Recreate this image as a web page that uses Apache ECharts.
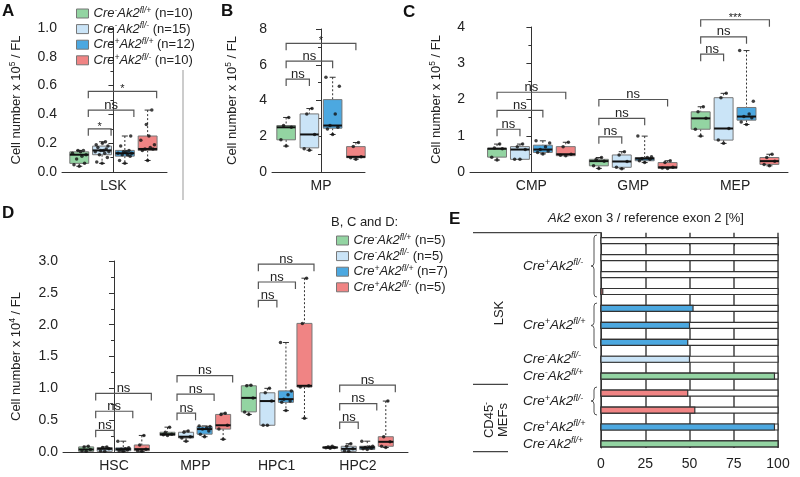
<!DOCTYPE html>
<html>
<head>
<meta charset="utf-8">
<script src="https://cdn.jsdelivr.net/npm/echarts@6/dist/echarts.min.js"></script>
<style>
  html, body { margin: 0; padding: 0; background: #fff; }
  #chart-container { width: 800px; height: 477px; }
</style>
</head>
<body>
<div id="chart-container"></div>
<script>
// ---- data ----
// boxes: [min, q1, median, q3, max] per group (Cre-fl/+, Cre-fl/-, Cre+fl/+, Cre+fl/-)
const lskCats = ["LSK"];
const lskBoxes = [[
  [0.04, 0.06, 0.12, 0.14, 0.15],
  [0.06, 0.12, 0.15, 0.18, 0.21],
  [0.06, 0.11, 0.13, 0.15, 0.25],
  [0.08, 0.15, 0.16, 0.25, 0.43]
]];
const lskPoints = [[
  [0.04, 0.05, 0.06, 0.09, 0.11, 0.12, 0.13, 0.14, 0.15, 0.15],
  [0.06, 0.07, 0.10, 0.12, 0.13, 0.14, 0.14, 0.15, 0.15, 0.16, 0.17, 0.18, 0.19, 0.20, 0.21],
  [0.06, 0.08, 0.11, 0.12, 0.12, 0.13, 0.13, 0.14, 0.14, 0.15, 0.18, 0.25],
  [0.08, 0.15, 0.16, 0.16, 0.17, 0.19, 0.22, 0.25, 0.33, 0.43]
]];
const lskBrackets = [[0, 0, 1, 0.30, "*"], [0, 0, 2, 0.43, "ns"], [0, 0, 3, 0.56, "*"]];

const mpCats = ["MP"];
const mpBoxes = [[
  [1.45, 1.8, 2.5, 2.6, 3.05],
  [1.22, 1.35, 2.1, 3.25, 3.55],
  [2.1, 2.45, 2.6, 4.05, 5.3],
  [0.72, 0.8, 0.85, 1.42, 1.65]
]];
const mpPoints = [[
  [1.45, 1.8, 2.5, 2.6, 3.05],
  [1.22, 1.3, 2.1, 3.25, 3.55],
  [2.1, 2.4, 2.5, 2.6, 3.25, 4.8, 5.3],
  [0.72, 0.8, 0.85, 1.42, 1.65]
]];
const mpBrackets = [[0, 0, 1, 5.2, "ns"], [0, 0, 2, 6.2, "ns"], [0, 0, 3, 7.2, "*"]];

const progCats = ["CMP", "GMP", "MEP"];
const progBoxes = [
  [[0.33, 0.41, 0.64, 0.66, 0.77], [0.35, 0.35, 0.62, 0.70, 0.77], [0.5, 0.54, 0.62, 0.74, 0.86], [0.45, 0.45, 0.49, 0.70, 0.82]],
  [[0.1, 0.17, 0.3, 0.35, 0.4], [0.09, 0.13, 0.29, 0.47, 0.56], [0.26, 0.31, 0.37, 0.4, 0.99], [0.1, 0.1, 0.13, 0.26, 0.31]],
  [[0.99, 1.18, 1.48, 1.66, 1.8], [0.79, 0.88, 1.2, 2.05, 2.17], [1.31, 1.43, 1.53, 1.78, 3.35], [0.17, 0.21, 0.3, 0.4, 0.49]]
];
const progPoints = [
  [[0.33, 0.41, 0.64, 0.66, 0.77], [0.35, 0.35, 0.62, 0.70, 0.77], [0.5, 0.54, 0.58, 0.62, 0.7, 0.8, 0.86], [0.45, 0.46, 0.49, 0.70, 0.82]],
  [[0.1, 0.17, 0.3, 0.35, 0.4], [0.09, 0.13, 0.29, 0.47, 0.56], [0.26, 0.31, 0.35, 0.37, 0.4, 0.42, 0.99], [0.1, 0.11, 0.13, 0.26, 0.31]],
  [[0.99, 1.18, 1.48, 1.66, 1.8], [0.79, 0.88, 1.2, 2.05, 2.17], [1.31, 1.38, 1.5, 1.53, 1.6, 1.95, 3.35], [0.17, 0.21, 0.3, 0.4, 0.49]]
];
const progBrackets = [
  [0, 0, 1, 1.18, "ns"], [0, 0, 2, 1.7, "ns"], [0, 0, 3, 2.2, "ns"],
  [1, 0, 1, 0.97, "ns"], [1, 0, 2, 1.48, "ns"], [1, 0, 3, 2.0, "ns"],
  [2, 0, 1, 3.25, "ns"], [2, 0, 2, 3.73, "ns"], [2, 0, 3, 4.2, "***"]
];

const stemCats = ["HSC", "MPP", "HPC1", "HPC2"];
const stemBoxes = [
  [[0.01, 0.01, 0.04, 0.08, 0.09], [0.01, 0.01, 0.05, 0.07, 0.08], [0.01, 0.02, 0.045, 0.065, 0.17], [0.01, 0.02, 0.045, 0.11, 0.26]],
  [[0.26, 0.26, 0.28, 0.31, 0.39], [0.17, 0.22, 0.24, 0.31, 0.33], [0.24, 0.28, 0.36, 0.4, 0.41], [0.2, 0.36, 0.42, 0.59, 0.61]],
  [[0.59, 0.63, 0.85, 1.04, 1.05], [0.42, 0.42, 0.8, 0.93, 1.0], [0.65, 0.78, 0.83, 0.96, 1.72], [0.53, 1.02, 1.04, 2.02, 2.73]],
  [[0.06, 0.065, 0.07, 0.08, 0.09], [0.01, 0.01, 0.05, 0.09, 0.13], [0.04, 0.04, 0.07, 0.09, 0.17], [0.07, 0.09, 0.16, 0.24, 0.8]]
];
const stemPoints = [
  [[0.01, 0.02, 0.04, 0.08, 0.09], [0.01, 0.02, 0.05, 0.07, 0.08], [0.01, 0.02, 0.03, 0.045, 0.05, 0.065, 0.17], [0.01, 0.02, 0.045, 0.11, 0.26]],
  [[0.26, 0.27, 0.28, 0.31, 0.39], [0.17, 0.22, 0.24, 0.31, 0.33], [0.24, 0.28, 0.33, 0.36, 0.38, 0.4, 0.41], [0.2, 0.36, 0.42, 0.59, 0.61]],
  [[0.59, 0.63, 0.85, 1.04, 1.05], [0.42, 0.42, 0.8, 0.93, 1.0], [0.65, 0.78, 0.8, 0.83, 0.9, 0.96, 1.72], [0.53, 1.02, 1.04, 2.02, 2.73]],
  [[0.06, 0.065, 0.07, 0.08, 0.09], [0.01, 0.02, 0.05, 0.09, 0.13], [0.04, 0.05, 0.06, 0.07, 0.08, 0.09, 0.17], [0.07, 0.09, 0.16, 0.24, 0.8]]
];
const stemBrackets = [
  [0, 0, 1, 0.34, "ns"], [0, 0, 2, 0.64, "ns"], [0, 0, 3, 0.92, "ns"],
  [1, 0, 1, 0.61, "ns"], [1, 0, 2, 0.91, "ns"], [1, 0, 3, 1.2, "ns"],
  [2, 0, 1, 2.38, "ns"], [2, 0, 2, 2.67, "ns"], [2, 0, 3, 2.95, "ns"],
  [3, 0, 1, 0.47, "ns"], [3, 0, 2, 0.76, "ns"], [3, 0, 3, 1.05, "ns"]
];

// panel E: one bar per sample, top to bottom
const exonValues = [0, 0, 0, 1, 52, 50, 49, 50, 98, 49, 53, 98, 100];
const exonGroups = [3, 3, 3, 3, 2, 2, 2, 1, 0, 3, 3, 2, 0];
const exonLabelRows = [1.5, 5, 7, 8, 9.5, 11, 12];
const exonLabelGeno = [["+", "-"], ["+", "+"], ["-", "-"], ["-", "+"], ["+", "-"], ["+", "+"], ["-", "+"]];
const exonTicks = [0, 25, 50, 75, 100];

const legendANs = [10, 15, 12, 10];
const legendDNs = [5, 5, 7, 5];
const groupGeno = [["-", "+"], ["-", "-"], ["+", "+"], ["+", "-"]];

// ---- styling ----
const FONT = "Liberation Sans";
const groupColors = ["#93d4a2", "#cae4f7", "#4ca8e0", "#f08484"];
const AXIS = "#333";

function geno(c, a) {
  return "{i|Cre}{s|" + c + "}{i|Ak2}{s|fl/" + a + "}";
}
const genoRich = {
  i: { fontStyle: "italic", fontSize: 13, fontFamily: FONT, color: "#222", lineHeight: 15 },
  s: { fontStyle: "italic", fontSize: 8.5, fontFamily: FONT, color: "#222", lineHeight: 6, verticalAlign: "top" },
  t: { fontSize: 13, fontFamily: FONT, color: "#222", lineHeight: 15 }
};
const eRich = {
  i: { fontStyle: "italic", fontSize: 13.5, fontFamily: FONT, color: "#222", lineHeight: 16 },
  s: { fontStyle: "italic", fontSize: 9, fontFamily: FONT, color: "#222", lineHeight: 6, verticalAlign: "top" }
};

var dom = document.getElementById("chart-container");
var myChart = echarts.init(dom, null, { renderer: "canvas" });

const panels = [
  { cats: lskCats, boxes: lskBoxes, points: lskPoints, brackets: lskBrackets, names: ["a0", "a1", "a2", "a3"],
    grid: { left: 62, top: 28, width: 105, height: 144 }, xMin: -0.49, xMax: 0.51,
    yMax: 1, yStep: 0.2, dec: 1, spacing: 0.217, bw: 0.18, shift: 0.086, exp: "5", nameGap: 38 },
  { cats: mpCats, boxes: mpBoxes, points: mpPoints, brackets: mpBrackets, names: ["d0", "d1", "d2", "d3"],
    grid: { left: 272, top: 29, width: 93, height: 143 }, xMin: -0.527, xMax: 0.473,
    yMax: 8, yStep: 2, dec: 0, spacing: 0.25, bw: 0.2, shift: 0, exp: "5", nameGap: 32 },
  { cats: progCats, boxes: progBoxes, points: progPoints, brackets: progBrackets, names: ["d0", "d1", "d2", "d3"],
    grid: { left: 470, top: 27, width: 318, height: 145 }, xMin: -0.603, xMax: 2.52,
    yMax: 4, yStep: 1, dec: 0, spacing: 0.225, bw: 0.186, shift: 0, exp: "5", nameGap: 26 },
  { cats: stemCats, boxes: stemBoxes, points: stemPoints, brackets: stemBrackets, names: ["d0", "d1", "d2", "d3"],
    grid: { left: 63, top: 261, width: 345, height: 191 }, xMin: -0.627, xMax: 3.615,
    yMax: 3, yStep: 0.5, dec: 1, spacing: 0.228, bw: 0.185, shift: 0.117, exp: "4", nameGap: 39 }
];

const jitter = [0, -0.28, 0.28, -0.14, 0.14, 0.36, -0.36, 0.07, -0.07, 0.22, -0.22, 0.31, -0.31, 0.02, 0.18];

function makeBoxRenderer(bw, color) {
  return function (params, api) {
    const x = api.value(0);
    const w = api.size([bw, 0])[0];
    const lo = api.coord([x, api.value(1)]);
    const q1 = api.coord([x, api.value(2)]);
    const md = api.coord([x, api.value(3)]);
    const q3 = api.coord([x, api.value(4)]);
    const hi = api.coord([x, api.value(5)]);
    const cx = lo[0];
    const cap = 3;
    const dash = { stroke: "#333", lineWidth: 1, lineDash: [2, 2] };
    const solid = { stroke: "#333", lineWidth: 1 };
    return {
      type: "group",
      children: [
        { type: "line", shape: { x1: cx, y1: hi[1], x2: cx, y2: q3[1] }, style: dash },
        { type: "line", shape: { x1: cx, y1: q1[1], x2: cx, y2: lo[1] }, style: dash },
        { type: "line", shape: { x1: cx - cap, y1: hi[1], x2: cx + cap, y2: hi[1] }, style: solid },
        { type: "line", shape: { x1: cx - cap, y1: lo[1], x2: cx + cap, y2: lo[1] }, style: solid },
        { type: "rect", shape: { x: cx - w / 2, y: q3[1], width: w, height: Math.max(q1[1] - q3[1], 1) },
          style: { fill: color, stroke: "#777", lineWidth: 1 } },
        { type: "line", shape: { x1: cx - w / 2, y1: md[1], x2: cx + w / 2, y2: md[1] },
          style: { stroke: "#111", lineWidth: 2 } }
      ]
    };
  };
}

function makeBracketRenderer(labels) {
  return function (params, api) {
    const a = api.coord([api.value(0), api.value(2)]);
    const b = api.coord([api.value(1), api.value(2)]);
    const leg = 7;
    const label = labels[params.dataIndex];
    const star = label.indexOf("*") >= 0;
    return {
      type: "group",
      children: [
        { type: "polyline", shape: { points: [[a[0], a[1] + leg], [a[0], a[1]], [b[0], b[1]], [b[0], b[1] + leg]] },
          style: { stroke: "#555", lineWidth: 1.2, fill: null } },
        { type: "text", x: (a[0] + b[0]) / 2, y: star ? a[1] - 2 : a[1] + 1.5,
          style: { text: label, align: "center", verticalAlign: star ? "middle" : "bottom",
            fontSize: star ? 11 : 13, fill: "#222", fontFamily: FONT } }
      ]
    };
  };
}

const grids = [], xAxes = [], yAxes = [], series = [];

panels.forEach(function (p, pi) {
  grids.push(p.grid);
  xAxes.push({
    gridIndex: pi, type: "value", min: p.xMin, max: p.xMax,
    axisLine: { show: true, lineStyle: { color: AXIS, width: 1 } },
    axisTick: { show: false }, splitLine: { show: false },
    axisLabel: { customValues: p.cats.map(function (c, i) { return i; }), margin: 7,
      fontSize: 14, color: "#222", fontFamily: FONT,
      formatter: function (v) { return p.cats[Math.round(v)]; } }
  });
  yAxes.push({
    gridIndex: pi, type: "value", min: 0, max: p.yMax, interval: p.yStep,
    name: "{a|Cell number x 10}{s|" + p.exp + "}{a| / FL}",
    nameLocation: "middle", nameGap: p.nameGap,
    nameTextStyle: { rich: {
      a: { fontSize: 13, fontFamily: FONT, color: "#222", lineHeight: 16 },
      s: { fontSize: 8.5, fontFamily: FONT, color: "#222", lineHeight: 6, verticalAlign: "top" } } },
    axisLine: { show: true, lineStyle: { color: AXIS, width: 1 } },
    axisTick: { show: true, length: 5, lineStyle: { color: AXIS } },
    minorTick: { show: true, splitNumber: 2, length: 3, lineStyle: { color: AXIS } },
    splitLine: { show: false },
    axisLabel: { fontSize: 14, color: "#222", fontFamily: FONT, margin: 5,
      formatter: function (v) { return v.toFixed(p.dec); } }
  });
  for (let g = 0; g < 4; g++) {
    series.push({
      type: "custom", name: p.names[g], xAxisIndex: pi, yAxisIndex: pi, z: 2,
      itemStyle: { color: groupColors[g] },
      renderItem: makeBoxRenderer(p.bw, groupColors[g]),
      data: p.boxes.map(function (cat, c) { return [c + (g - 1.5) * p.spacing].concat(cat[g]); })
    });
  }
  const pts = [];
  p.points.forEach(function (cat, c) {
    cat.forEach(function (vals, g) {
      vals.forEach(function (v, k) {
        pts.push([c + (g - 1.5) * p.spacing + jitter[k % jitter.length] * p.bw, v]);
      });
    });
  });
  series.push({ type: "scatter", name: "pts", xAxisIndex: pi, yAxisIndex: pi, z: 4, silent: true,
    symbolSize: 3.5, itemStyle: { color: "#111" }, data: pts });
  series.push({
    type: "custom", name: "sig", xAxisIndex: pi, yAxisIndex: pi, z: 3, silent: true,
    renderItem: makeBracketRenderer(p.brackets.map(function (b) { return b[4]; })),
    data: p.brackets.map(function (b) {
      return [b[0] + (b[1] - 1.5) * p.spacing + p.shift, b[0] + (b[2] - 1.5) * p.spacing + p.shift, b[3]];
    })
  });
});

// panel E
grids.push({ left: 601, top: 232.7, width: 177, height: 215.3 });
xAxes.push({
  gridIndex: 4, type: "value", min: 0, max: 100, interval: 25,
  axisLine: { show: true, lineStyle: { color: AXIS } },
  axisTick: { show: true, length: 5, lineStyle: { color: AXIS } },
  splitLine: { show: true, lineStyle: { color: "#444", width: 1.5 } },
  axisLabel: { fontSize: 14, color: "#222", fontFamily: FONT, margin: 9,
    customValues: exonTicks }
});
yAxes.push({
  gridIndex: 4, type: "value", inverse: true, min: -0.47, max: 12.24,
  axisLine: { show: true, lineStyle: { color: AXIS } },
  axisTick: { show: false }, splitLine: { show: false },
  axisLabel: {
    customValues: exonLabelRows, align: "left", margin: 78, rich: eRich,
    formatter: function (v) {
      const i = exonLabelRows.findIndex(function (r) { return Math.abs(r - v) < 1e-6; });
      return i >= 0 ? geno(exonLabelGeno[i][0], exonLabelGeno[i][1]) : "";
    }
  }
});
series.push({
  type: "custom", name: "exon", xAxisIndex: 4, yAxisIndex: 4, z: 3, silent: true,
  data: exonValues.map(function (v, i) { return [v, i, exonGroups[i]]; }),
  renderItem: function (params, api) {
    const row = api.value(1);
    const p0 = api.coord([0, row]);
    const p100 = api.coord([100, row]);
    const pv = api.coord([api.value(0), row]);
    const h = 6;
    const children = [
      { type: "rect", shape: { x: p0[0], y: p0[1] - h / 2, width: p100[0] - p0[0], height: h },
        style: { fill: "#fff", stroke: "#333", lineWidth: 1.2 } }
    ];
    if (api.value(0) > 0) {
      children.push({ type: "rect", shape: { x: p0[0], y: p0[1] - h / 2, width: pv[0] - p0[0], height: h },
        style: { fill: groupColors[api.value(2)], stroke: "#333", lineWidth: 1.2 } });
    }
    return { type: "group", children: children };
  }
});

// curly brace built from quadratic curves, tip pointing left
function brace(x, y1, y2) {
  const m = (y1 + y2) / 2;
  const st = { fill: null, stroke: "#555", lineWidth: 1 };
  return {
    type: "group",
    children: [
      { type: "bezierCurve", shape: { x1: x + 3, y1: y1, cpx1: x, cpy1: y1, x2: x, y2: y1 + 3 }, style: st },
      { type: "line", shape: { x1: x, y1: y1 + 3, x2: x, y2: m - 3 }, style: st },
      { type: "bezierCurve", shape: { x1: x, y1: m - 3, cpx1: x, cpy1: m, x2: x - 3, y2: m }, style: st },
      { type: "bezierCurve", shape: { x1: x - 3, y1: m, cpx1: x, cpy1: m, x2: x, y2: m + 3 }, style: st },
      { type: "line", shape: { x1: x, y1: m + 3, x2: x, y2: y2 - 3 }, style: st },
      { type: "bezierCurve", shape: { x1: x, y1: y2 - 3, cpx1: x, cpy1: y2, x2: x + 3, y2: y2 }, style: st }
    ]
  };
}

const letterStyle = { fontSize: 17, fontWeight: "bold", fontFamily: FONT, fill: "#111" };
function letter(t, x, y) {
  return { type: "text", x: x, y: y, style: Object.assign({ text: t }, letterStyle) };
}
const lineStyle = { stroke: "#444", lineWidth: 1.3 };

const option = {
  animation: false,
  textStyle: { fontFamily: FONT },
  grid: grids,
  xAxis: xAxes,
  yAxis: yAxes,
  legend: [
    { data: ["a0", "a1", "a2", "a3"], orient: "vertical", left: 71, top: 1, itemWidth: 12, itemHeight: 9,
      itemGap: 0.6, icon: "rect", selectedMode: false, itemStyle: { borderColor: "#777", borderWidth: 1 },
      textStyle: { rich: genoRich, fontSize: 13, color: "#222", lineHeight: 15 },
      formatter: function (n) {
        const g = +n.slice(1);
        return geno(groupGeno[g][0], groupGeno[g][1]) + "{t| (n=" + legendANs[g] + ")}";
      } },
    { data: ["d0", "d1", "d2", "d3"], orient: "vertical", left: 331, top: 228, itemWidth: 12, itemHeight: 9,
      itemGap: 0.6, icon: "rect", selectedMode: false, itemStyle: { borderColor: "#777", borderWidth: 1 },
      textStyle: { rich: genoRich, fontSize: 13, color: "#222", lineHeight: 15 },
      formatter: function (n) {
        const g = +n.slice(1);
        return geno(groupGeno[g][0], groupGeno[g][1]) + "{t| (n=" + legendDNs[g] + ")}";
      } }
  ],
  graphic: [
    letter("A", 2, 3), letter("B", 221, 3), letter("C", 403, 4), letter("D", 2, 205), letter("E", 449, 211),
    { type: "line", shape: { x1: 183, y1: 70, x2: 183, y2: 200 }, style: { stroke: "#bbb", lineWidth: 1.5 } },
    { type: "text", x: 331, y: 222, style: { text: "B, C and D:", fontSize: 13, fontFamily: FONT, fill: "#222", verticalAlign: "middle" } },
    { type: "text", x: 646, y: 218, style: { text: "{i|Ak2} exon 3 / reference exon 2 [%]", align: "center", verticalAlign: "middle",
      fontSize: 13, fontFamily: FONT, fill: "#222", rich: { i: { fontStyle: "italic", fontSize: 13, fontFamily: FONT, fill: "#222" } } } },
    { type: "line", shape: { x1: 473, y1: 232.7, x2: 601, y2: 232.7 }, style: lineStyle },
    { type: "line", shape: { x1: 473, y1: 384.3, x2: 508, y2: 384.3 }, style: lineStyle },
    { type: "line", shape: { x1: 473, y1: 451.7, x2: 508, y2: 451.7 }, style: lineStyle },
    { type: "text", x: 499, y: 313, rotation: Math.PI / 2,
      style: { text: "LSK", align: "center", verticalAlign: "middle", fontSize: 13, fontFamily: FONT, fill: "#222" } },
    { type: "text", x: 496, y: 420, rotation: Math.PI / 2,
      style: { text: "{n|CD45}{s|-}\n{n|MEFs}", align: "center", verticalAlign: "middle", fontFamily: FONT, fill: "#222",
        rich: { n: { fontSize: 13, fontFamily: FONT, lineHeight: 14 }, s: { fontSize: 9, fontFamily: FONT, lineHeight: 6, verticalAlign: "top" } } } },
    brace(594, 235, 297), brace(594, 303, 348), brace(594, 387, 415)
  ],
  series: series
};

myChart.setOption(option);
window.addEventListener("resize", myChart.resize);
</script>
</body>
</html>
